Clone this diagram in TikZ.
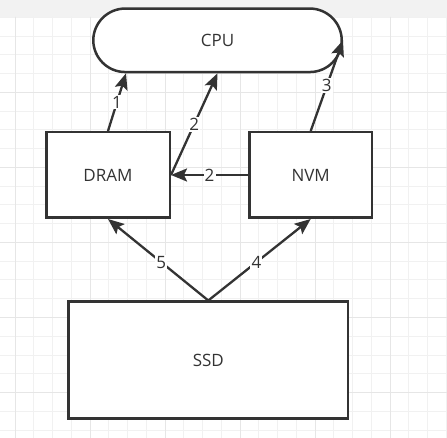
\documentclass[tikz,border=0pt]{standalone}
\usepackage{fontspec}
\setmainfont{Open Sans}
\usetikzlibrary{arrows.meta,calc}
\definecolor{ink}{HTML}{333333}
\definecolor{gridminor}{HTML}{F1F1F1}
\definecolor{gridmajor}{HTML}{E6E6E6}
\definecolor{band}{HTML}{F2F2F2}
\tikzset{
  box/.style={draw=ink, line width=2.5pt, fill=white, text=ink, inner sep=0pt, font=\fontsize{17}{20}\selectfont},
  conn/.style={draw=ink, line width=2.3pt, -{Stealth[length=16pt,width=13pt,inset=3pt]}},
  lbl/.style={fill=white, text=ink, inner sep=1.2pt, font=\fontsize{17}{20}\selectfont, midway}
}
\begin{document}
\begin{tikzpicture}[x=1pt,y=-1pt]
\useasboundingbox (0,0) rectangle (447,438);
% background
\fill[white] (0,0) rectangle (447,438);
\fill[band] (0,0) rectangle (447,16.8);
\foreach \i in {0,...,23} {
  \pgfmathsetmacro{\gx}{15+18.75*(\i-0)}
  \draw[gridminor, line width=1pt] (\gx,16.8) -- (\gx,438);
}
\foreach \i in {0,...,22} {
  \pgfmathsetmacro{\gy}{17.5+18.75*\i}
  \draw[gridminor, line width=1pt] (0,\gy) -- (447,\gy);
}
\foreach \gx in {15,90,165,240,315,390} {
  \draw[gridmajor, line width=1pt] (\gx,16.8) -- (\gx,438);
}
\foreach \gy in {92.5,167.5,242.5,317.5,392.5} {
  \draw[gridmajor, line width=1pt] (0,\gy) -- (447,\gy);
}
% nodes
\node[box, rounded corners=32pt, minimum width=248.5pt, minimum height=63.5pt] (cpu) at (217.5,40.3) {CPU};
\node[box, minimum width=123.5pt, minimum height=85.5pt] (dram) at (108,175) {DRAM};
\node[box, minimum width=122.5pt, minimum height=85.5pt] (nvm) at (310.7,175) {NVM};
\node[box, minimum width=279.5pt, minimum height=116.5pt] (ssd) at (208.3,360) {SSD};
% connectors
\draw[conn] (dram.north) -- ($(cpu.south)+(-91.5,0)$) node[lbl] {1};
\draw[conn] (dram.east) -- (cpu.south) node[lbl] {2};
\draw[conn] (nvm.west) -- (dram.east) node[lbl] {2};
\draw[conn] (nvm.north) -- (cpu.east) node[lbl] {3};
\draw[conn] (ssd.north) -- (dram.south) node[lbl, pos=0.47] {5};
\draw[conn] (ssd.north) -- (nvm.south) node[lbl, pos=0.47] {4};
\end{tikzpicture}
\end{document}
